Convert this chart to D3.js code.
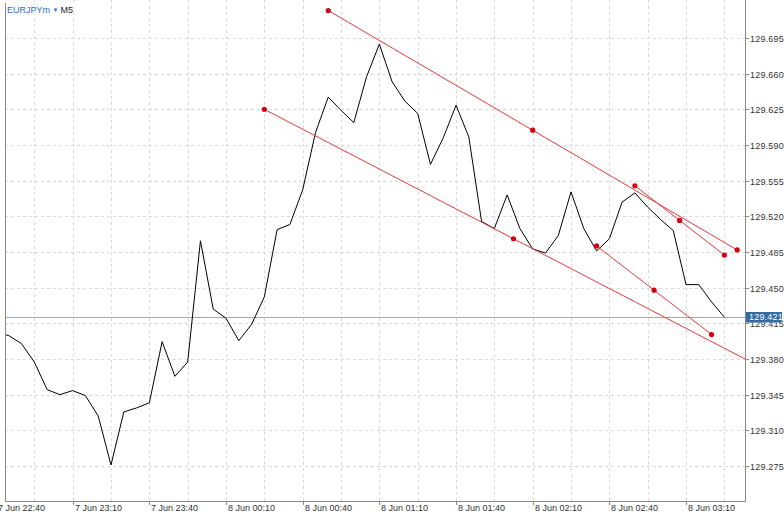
<!DOCTYPE html>
<html><head><meta charset="utf-8">
<script src="https://cdn.jsdelivr.net/npm/d3@7"></script>
<style>
html,body{margin:0;padding:0;background:#fff;overflow:hidden}
svg{display:block;font-family:"Liberation Sans",Arial,sans-serif}
</style></head><body>
<svg id="c" width="784" height="514"></svg>
<script>
// ---- data ----
const symbol = "EURJPYm";
const timeframe = "M5";
// close prices, one per 5-minute bar starting 7 Jun 22:40
const prices = [
 129.406,129.403,129.395,129.377,129.350,129.345,129.349,129.344,129.324,129.276,
 129.328,129.332,129.337,129.397,129.363,129.377,129.496,129.429,129.420,129.398,
 129.414,129.441,129.507,129.512,129.546,129.602,129.637,129.624,129.612,129.657,
 129.689,129.652,129.633,129.621,129.571,129.597,129.629,129.598,129.515,129.508,
 129.541,129.508,129.488,129.484,129.501,129.544,129.508,129.486,129.498,129.534,
 129.543,129.529,129.517,129.506,129.453,129.453,129.436,129.421
];
const currentPrice = 129.421;
const xTickLabels = ["7 Jun 22:40","7 Jun 23:10","7 Jun 23:40","8 Jun 00:10","8 Jun 00:40",
 "8 Jun 01:10","8 Jun 01:40","8 Jun 02:10","8 Jun 02:40","8 Jun 03:10"];
const yTickLabels = ["129.275","129.310","129.345","129.380","129.415","129.450","129.485",
 "129.520","129.555","129.590","129.625","129.660","129.695"];
// trend lines: bar index / price of start and end point
const trendStartBar   = [26, 21, 50, 47];
const trendStartPrice = [129.722, 129.625, 129.550, 129.491];
const trendEndBar     = [58, 60, 57, 56];
const trendEndPrice   = [129.487, 129.371, 129.482, 129.404];

// ---- layout ----
const svg = d3.select("#c");
const L = 5, R = 745, T = 0, B = 501;
const barW = 76.67/6;
const x = d3.scaleLinear().domain([0, 1]).range([-4, -4 + barW]);
const y = d3.scaleLinear().domain([129.275, 129.695]).range([466, 38]);

svg.append("defs").append("clipPath").attr("id","plot")
  .append("rect").attr("x",L).attr("y",T).attr("width",R-L).attr("height",B-T);

const grid = svg.append("g").attr("clip-path","url(#plot)");
// vertical grid every 3 bars (15 min)
grid.selectAll("line.vg").data(d3.range(0, 66, 3)).join("line")
  .attr("x1", d=>Math.round(x(d))+0.5).attr("x2", d=>Math.round(x(d))+0.5)
  .attr("y1", T).attr("y2", B)
  .attr("stroke","#dcdcdc").attr("stroke-dasharray","3,3");
// horizontal grid at y ticks
grid.selectAll("line.hg").data(yTickLabels).join("line")
  .attr("x1", L).attr("x2", R)
  .attr("y1", d=>Math.round(y(+d))+0.5).attr("y2", d=>Math.round(y(+d))+0.5)
  .attr("stroke","#dcdcdc").attr("stroke-dasharray","3,3");

const plot = svg.append("g").attr("clip-path","url(#plot)");
// current price line
plot.append("line").attr("x1",L).attr("x2",R)
  .attr("y1", Math.round(y(currentPrice))+0.5).attr("y2", Math.round(y(currentPrice))+0.5)
  .attr("stroke","#8fb0d2").attr("stroke-width",1);

// price line
plot.append("path").datum(prices)
  .attr("d", d3.line().x((d,i)=>x(i)).y(d=>y(d)))
  .attr("fill","none").attr("stroke","#000").attr("stroke-width",1);

// trend lines
trendStartBar.forEach((s,i)=>{
  const x0=x(s), y0=y(trendStartPrice[i]), x1=x(trendEndBar[i]), y1=y(trendEndPrice[i]);
  plot.append("line").attr("x1",x0).attr("y1",y0).attr("x2",x1).attr("y2",y1)
    .attr("stroke","#e8393b").attr("stroke-width",1);
  const pts = [[s,trendStartPrice[i]],[(s+trendEndBar[i])/2,(trendStartPrice[i]+trendEndPrice[i])/2],[trendEndBar[i],trendEndPrice[i]]];
  plot.selectAll(null).data(pts).join("circle")
    .attr("cx",d=>x(d[0])).attr("cy",d=>y(d[1])).attr("r",2.6)
    .attr("fill","#d40010");
});

// axes frame
svg.append("line").attr("x1",L+0.5).attr("x2",L+0.5).attr("y1",T+3).attr("y2",B+0.5).attr("stroke","#8a8a8a");
svg.append("line").attr("x1",R+0.5).attr("x2",R+0.5).attr("y1",T).attr("y2",B+0.5).attr("stroke","#8a8a8a");
svg.append("line").attr("x1",L).attr("x2",R+1).attr("y1",B+0.5).attr("y2",B+0.5).attr("stroke","#8a8a8a");

// y axis labels & ticks
const ya = svg.append("g");
yTickLabels.forEach(t=>{
  const yy = Math.round(y(+t))+0.5;
  ya.append("line").attr("x1",R).attr("x2",R+4).attr("y1",yy).attr("y2",yy).attr("stroke","#8a8a8a");
  ya.append("text").attr("x",750).attr("y",yy+3.3).attr("font-size",9).attr("fill","#333")
    .attr("letter-spacing",0.2).text(t);
});
// x axis labels & ticks
const xa = svg.append("g");
xTickLabels.forEach((t,i)=>{
  const xx = Math.round(x(i*6))+0.5;
  xa.append("line").attr("x1",xx).attr("x2",xx).attr("y1",B).attr("y2",B+4).attr("stroke","#8a8a8a");
  xa.append("text").attr("x",xx+1.5).attr("y",511).attr("font-size",9).attr("fill","#333").text(t);
});

// current price label
const cy = Math.round(y(currentPrice));
svg.append("rect").attr("x",746).attr("y",cy-5).attr("width",36).attr("height",10.5).attr("fill","#356ca3");
svg.append("text").attr("x",749).attr("y",cy+3.3).attr("font-size",9).attr("fill","#fff")
  .attr("letter-spacing",0.2).text(currentPrice.toFixed(3));

// symbol header
const hdr = svg.append("text").attr("x",7).attr("y",12.5).attr("font-size",9);
hdr.append("tspan").attr("fill","#1f6fd6").text(symbol);
hdr.append("tspan").attr("fill","#1f6fd6").attr("font-size",6).attr("dx",2.5).attr("dy",-0.5).text("▼");
hdr.append("tspan").attr("fill","#222").attr("dx",2).attr("dy",0.5).text(timeframe);
</script>
</body></html>
